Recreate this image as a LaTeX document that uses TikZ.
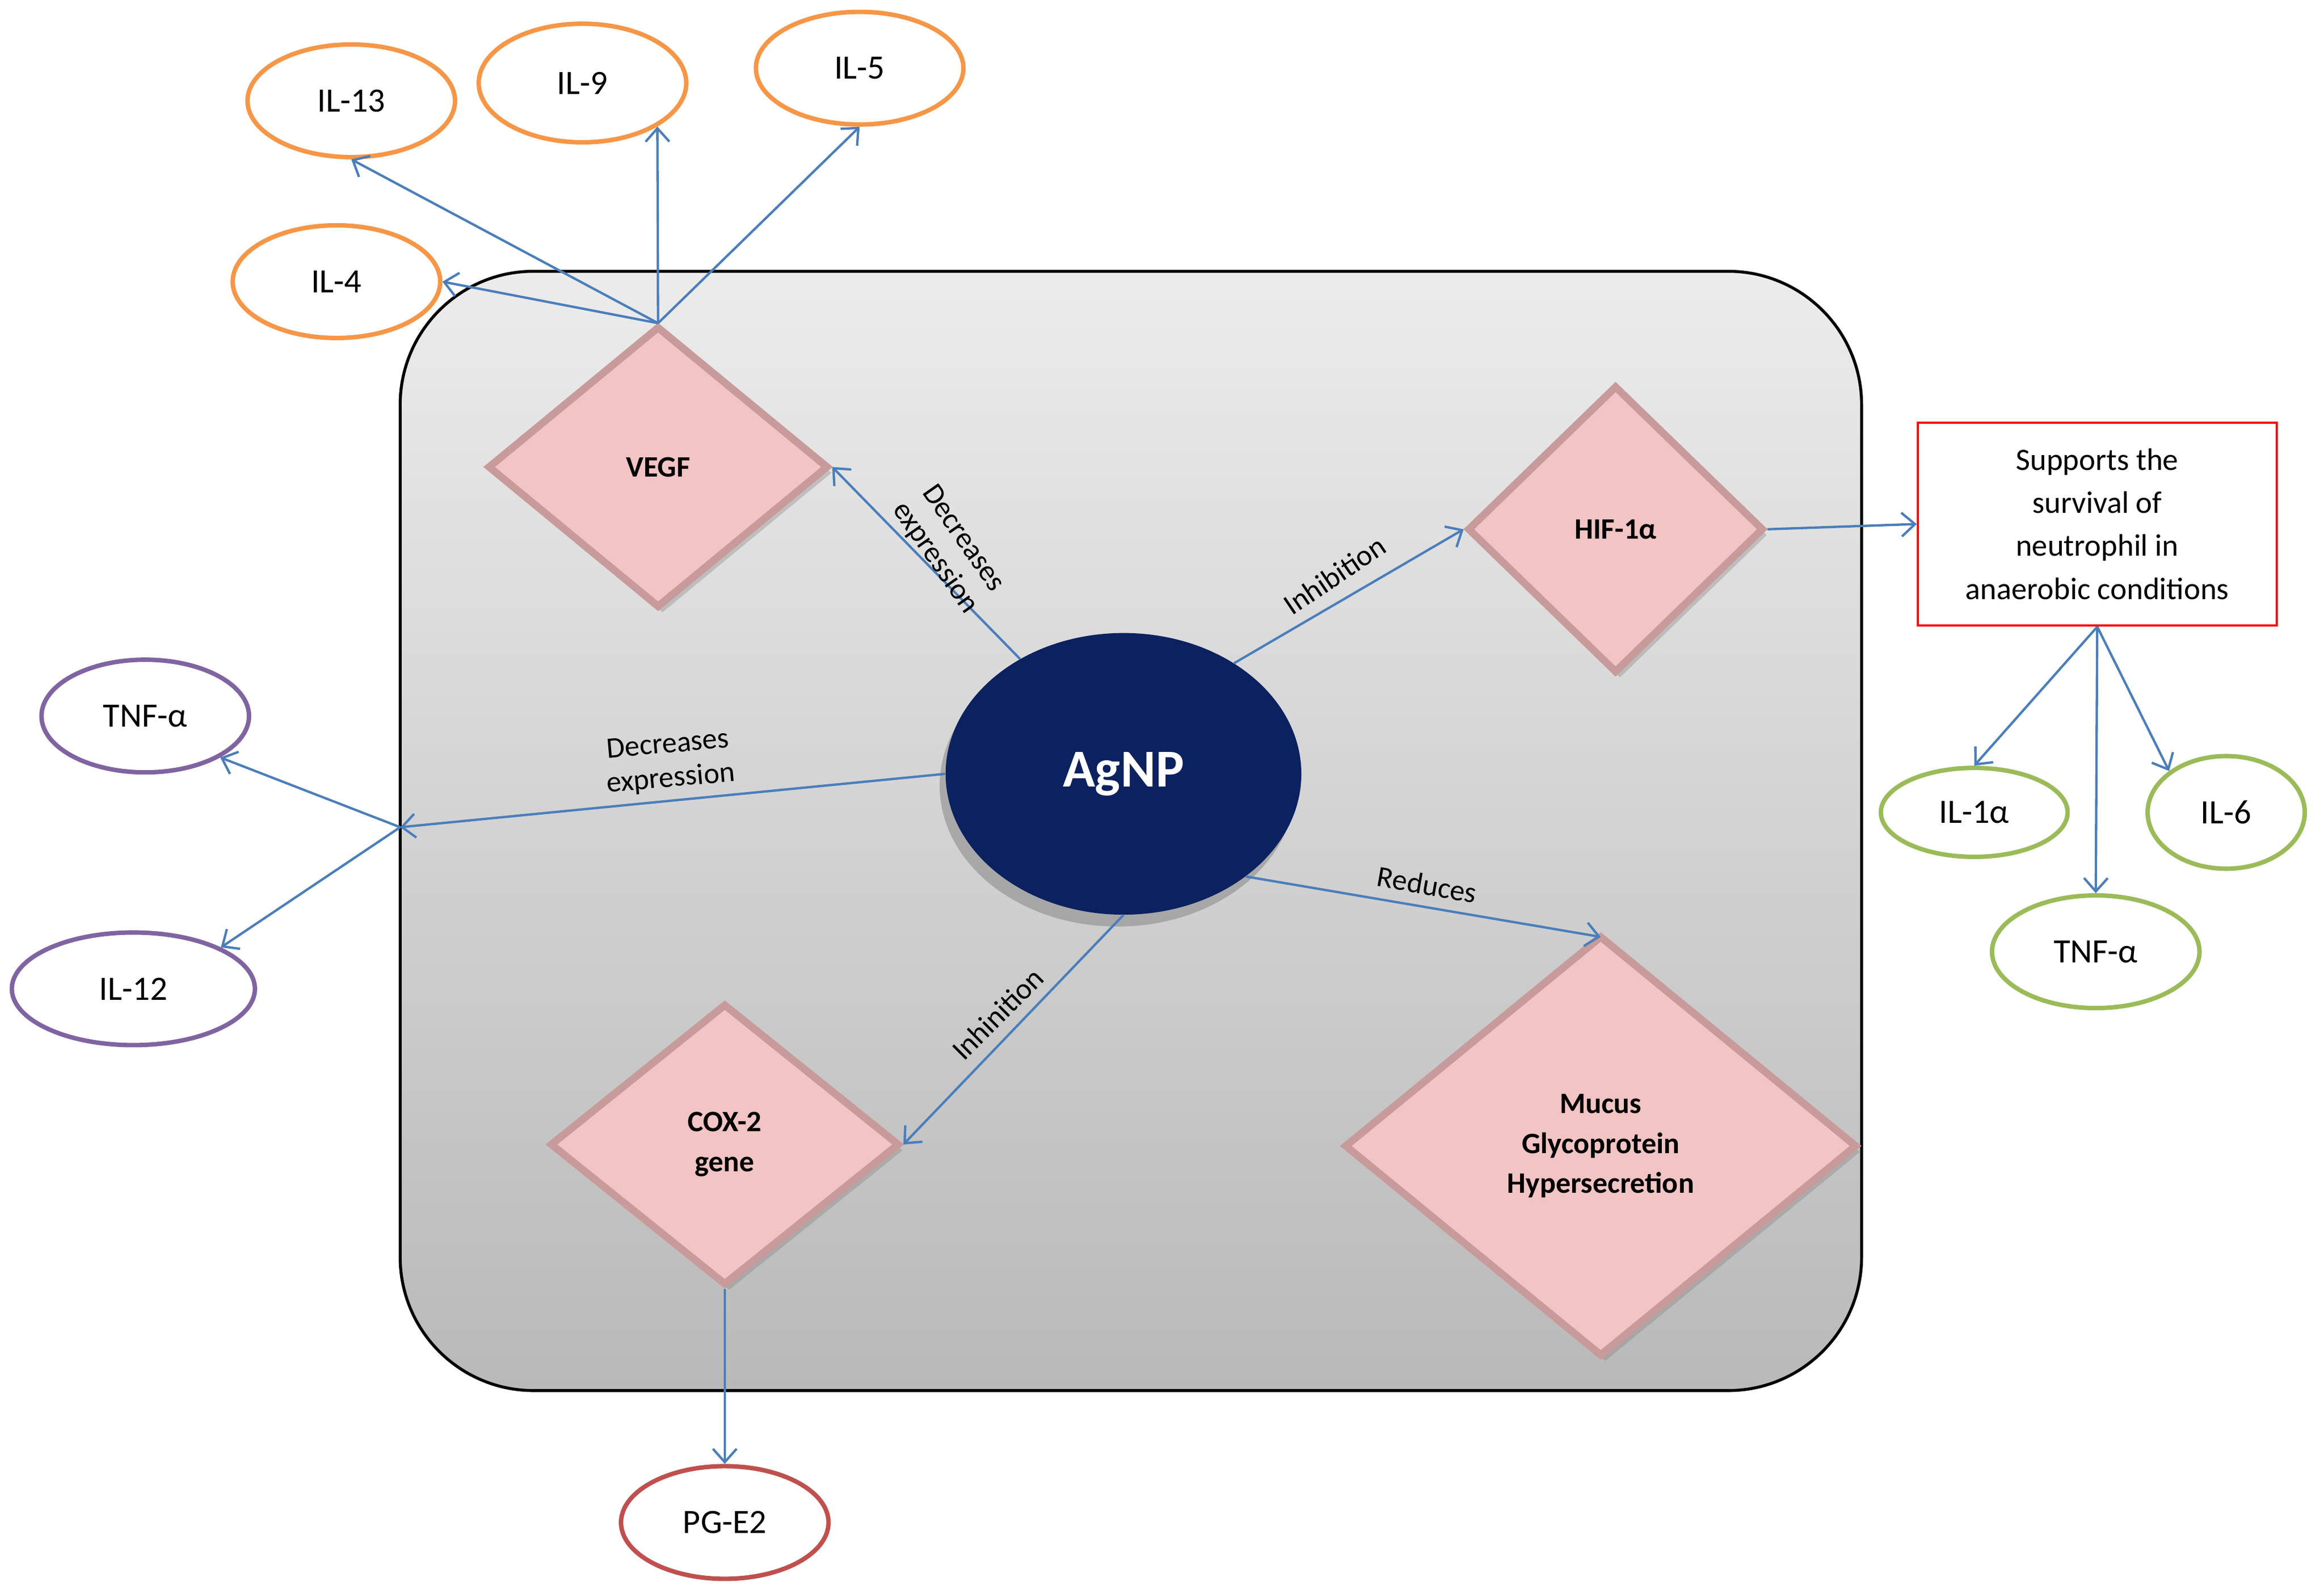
\documentclass[tikz,border=0pt]{standalone}
\usepackage{fontspec}
\setmainfont{Carlito}
\usetikzlibrary{shapes.geometric,arrows.meta,shadows}
\definecolor{arr}{HTML}{4A7EBB}
\definecolor{org}{HTML}{F79646}
\definecolor{pur}{HTML}{8064A2}
\definecolor{grn}{HTML}{9BBB59}
\definecolor{rdd}{HTML}{C0504D}
\definecolor{navy}{HTML}{0B2160}
\definecolor{pink}{HTML}{F2C4C4}
\definecolor{pinkd}{HTML}{C99A9A}
\begin{document}
\begin{tikzpicture}[x=1pt,y=-1pt,
 ar/.style={draw=arr,line width=1.6pt,-{Straight Barb[length=9pt,width=16pt]}},
 ell/.style={ellipse,line width=3pt,fill=white,inner sep=0pt,font=\fontsize{23}{25}\selectfont},
 dia/.style={diamond,fill=pink,draw=pinkd,line width=5pt,inner sep=0pt,font=\bfseries\fontsize{20}{27}\selectfont,align=center,drop shadow={shadow xshift=3pt,shadow yshift=-4pt,opacity=.35}},
 lab/.style={font=\fontsize{20}{23}\selectfont,align=center}]
\useasboundingbox (0,0) rectangle (1568,1075);
\shade[top color=gray!15,bottom color=gray!55,draw=black,line width=2pt,rounded corners=90pt] (270,183) rectangle (1256,938);
% nodes
\node[ellipse,fill=navy,minimum width=240,minimum height=190,text=white,font=\bfseries\fontsize{36}{38}\selectfont,drop shadow={shadow xshift=-4pt,shadow yshift=-8pt,opacity=.5}] (ag) at (758,522) {AgNP};
\node[dia,minimum width=230,minimum height=190] (vegf) at (444,315) {VEGF};
\node[dia,minimum width=200,minimum height=194] (hif) at (1090,357) {HIF-1α};
\node[dia,minimum width=236,minimum height=190] (cox) at (489,772) {COX-2\\gene};
\node[dia,minimum width=346,minimum height=284] (muc) at (1080,773) {Mucus\\Glycoprotein\\Hypersecretion};
\node[ell,draw=org,minimum width=140,minimum height=76] (il13) at (237,68) {IL-13};
\node[ell,draw=org,minimum width=140,minimum height=80] (il9) at (393,56) {IL-9};
\node[ell,draw=org,minimum width=140,minimum height=76] (il5) at (580,46) {IL-5};
\node[ell,draw=org,minimum width=140,minimum height=76] (il4) at (227,190) {IL-4};
\node[ell,draw=pur,minimum width=140,minimum height=76] (tnf1) at (98,483) {TNF-α};
\node[ell,draw=pur,minimum width=164,minimum height=76] (il12) at (90,667) {IL-12};
\node[ell,draw=grn,minimum width=126,minimum height=60] (il1a) at (1332,548) {IL-1α};
\node[ell,draw=grn,minimum width=106,minimum height=76] (il6) at (1502,548) {IL-6};
\node[ell,draw=grn,minimum width=140,minimum height=76] (tnf2) at (1414,642) {TNF-α};
\node[ell,draw=rdd,minimum width=140,minimum height=76] (pge) at (489,1027) {PG-E2};
\node[draw=red,line width=1.6pt,fill=white,minimum width=242,minimum height=137,align=center,font=\fontsize{21}{29}\selectfont] (box) at (1415,353.5) {Supports the\\survival of\\neutrophil in\\anaerobic conditions};
% connectors
\coordinate (vj) at (444,218);
\coordinate (lj) at (270,558);
\draw[ar] (ag.132) -- (vegf.east);
\node[lab,rotate=-55] (l1) at (640,370) {Decreases\\expression};
\draw[ar] (ag.45) -- (hif.west) node[midway,lab,rotate=34,above,yshift=6pt] {Inhibition};
\draw[ar] (ag.west) -- (lj) node[pos=.5,lab,rotate=5,above,yshift=2pt] {Decreases\\expression};
\draw[ar] (lj) -- (tnf1.south east);
\draw[ar] (lj) -- (il12.north east);
\draw[ar] (ag.-40) -- (1080,632) node[midway,lab,rotate=-10,above,yshift=4pt] {Reduces};
\draw[ar] (ag.south) -- (cox.east) node[midway,lab,rotate=45,above,yshift=4pt] {Inhinition};
\draw[ar] (cox.south) -- (pge.north);
\draw[ar] (hif.east) -- (box.west);
\draw[ar] (box.south) -- (il1a.north);
\draw[ar] (box.south) -- (tnf2.north);
\draw[ar] (box.south) -- (il6.north west);
\draw[ar] (vj) -- (il4.east);
\draw[ar] (vj) -- (il13.south);
\draw[ar] (vj) -- (il9.south east);
\draw[ar] (vj) -- (il5.south);
\end{tikzpicture}
\end{document}
